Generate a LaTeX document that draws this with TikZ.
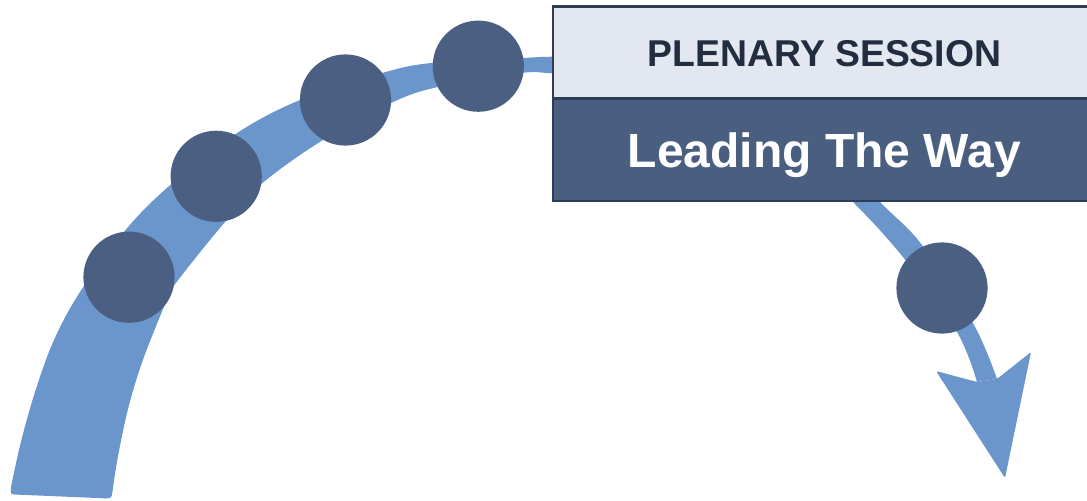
\documentclass[tikz,border=0pt]{standalone}
\usepackage{fontspec}
\setmainfont{Liberation Sans}
\definecolor{bandblue}{HTML}{6A96CB}
\definecolor{dotblue}{HTML}{4A5F81}
\definecolor{boxlight}{HTML}{E3E8F0}
\definecolor{boxdark}{HTML}{4A5F80}
\definecolor{boxline}{HTML}{2E3D57}
\definecolor{titletext}{HTML}{222D3F}
\begin{document}
\begin{tikzpicture}[x=0.75pt,y=-0.75pt,
  band/.style={fill=bandblue},
  dot/.style={circle,fill=dotblue,inner sep=0pt,minimum size=68.4pt},
  toptext/.style={anchor=base,text=titletext,font=\bfseries\fontsize{28}{31}\selectfont},
  maintext/.style={anchor=base,text=white,font=\bfseries\fontsize{36}{40}\selectfont}]
\clip (0,0) rectangle (1087,500);
\fill[white] (0,0) rectangle (1087,500);
% tapered arc
\fill[band] plot[smooth,tension=0.6] coordinates {(11,487) (21.4,440) (35.7,390) (54,340) (80,292) (123,233) (168,187) (234,135) (300,100) (382,73) (434,62.7) (523,58) (553,56.7) (640,56) (730,80) (810,130) (880,202) (922,245) (973,323) (997,379)}
  -- plot[smooth,tension=0.6] coordinates {(977,382) (957,332) (907,262) (853,202) (790,145) (710,100) (630,76) (553.6,73.3) (521,73) (439,86.7) (391,103) (323,140) (262.5,183) (225,222) (173,287) (164,306.7) (142.9,360) (128.6,406.7) (117.9,456.7) (112.5,491.7)}
  .. controls (111.5,498.3) .. (104,498.3) -- (15,494.5) .. controls (10.5,494) .. (11,487) -- cycle;
% arrowhead
\fill[band,rounded corners=1.5pt] (977,382) -- (936,371) -- (1005,478) -- (1031,352) -- (997,379) -- cycle;
% dots
\node[dot] (c1) at (129,277.2) {};
\node[dot] (c2) at (216.2,176.3) {};
\node[dot] (c3) at (345.5,100) {};
\node[dot] (c4) at (478.3,66.2) {};
\node[dot] (c5) at (942,288) {};
% title box
\filldraw[fill=boxlight,draw=boxline,line width=1.6pt] (553,6.5) rectangle (1100,98.5);
\filldraw[fill=boxdark,draw=boxline,line width=1.6pt] (553,98.5) rectangle (1100,201);
\node[toptext] (plen) at (824.6,66.7) {PLENARY SESSION};
\node[maintext] (lead) at (824.3,167.5) {Leading The Way};
\end{tikzpicture}
\end{document}
